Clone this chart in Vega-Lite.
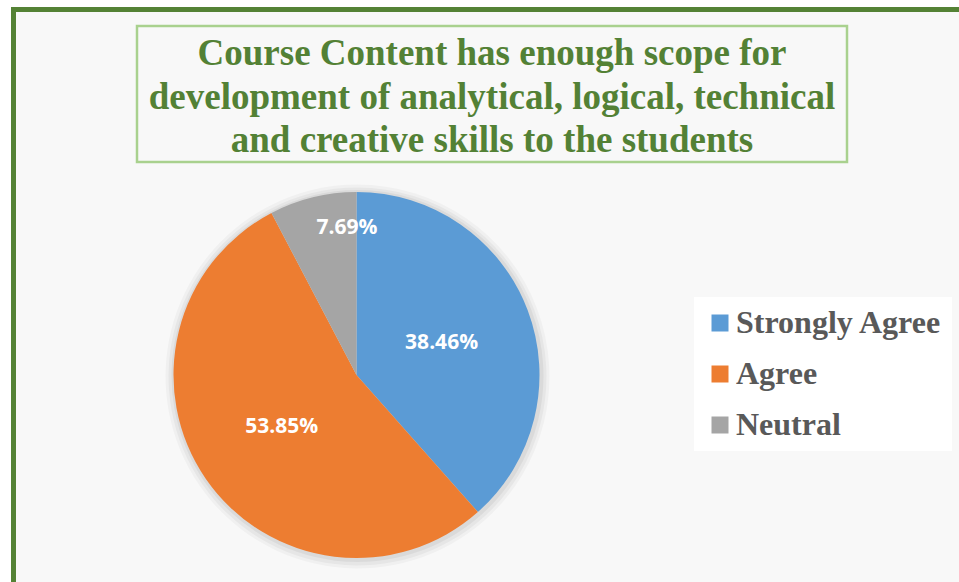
{
  "$schema": "https://vega.github.io/schema/vega-lite/v6.json",
  "width": 960,
  "height": 585,
  "autosize": {"type": "none"},
  "padding": {"left": 13.5, "top": 9.5, "right": 0, "bottom": 0},
  "background": "white",
  "config": {"view": {"stroke": "#548235", "strokeWidth": 5, "fill": "#f8f8f8"}},
  "data": {"values": [
    {"category": "Strongly Agree", "value": 38.46, "label": "38.46%", "idx": 1},
    {"category": "Agree", "value": 53.85, "label": "53.85%", "idx": 2},
    {"category": "Neutral", "value": 7.69, "label": "7.69%", "idx": 3}
  ]},
  "layer": [
    {
      "mark": {"type": "arc", "x": 344, "y": 367, "outerRadius": 192, "fill": "#000000", "opacity": 0.03},
      "encoding": {"theta": {"field": "value", "type": "quantitative", "stack": true}, "order": {"field": "idx"}}
    },
    {
      "mark": {"type": "arc", "x": 344, "y": 367, "outerRadius": 189, "fill": "#000000", "opacity": 0.04},
      "encoding": {"theta": {"field": "value", "type": "quantitative", "stack": true}, "order": {"field": "idx"}}
    },
    {
      "mark": {"type": "arc", "x": 344, "y": 366.5, "outerRadius": 186, "fill": "#000000", "opacity": 0.05},
      "encoding": {"theta": {"field": "value", "type": "quantitative", "stack": true}, "order": {"field": "idx"}}
    },
    {
      "mark": {"type": "arc", "x": 343, "y": 365.5, "outerRadius": 183, "stroke": null},
      "encoding": {
        "theta": {"field": "value", "type": "quantitative", "stack": true},
        "order": {"field": "idx"},
        "color": {
          "field": "category",
          "type": "nominal",
          "scale": {"domain": ["Strongly Agree", "Agree", "Neutral"], "range": ["#5b9bd5", "#ed7d31", "#a5a5a5"]},
          "sort": ["Strongly Agree", "Agree", "Neutral"],
          "legend": {
            "orient": "none",
            "legendX": 680.5,
            "legendY": 287.5,
            "title": null,
            "fillColor": "white",
            "padding": 10,
            "symbolType": "square",
            "symbolSize": 289,
            "symbolStrokeWidth": 0,
            "labelFont": "Liberation Serif",
            "labelFontWeight": "bold",
            "labelFontSize": 32,
            "labelColor": "#595959",
            "labelOffset": 0,
            "labelLimit": 0,
            "rowPadding": 19
          }
        }
      }
    },
    {
      "mark": {"type": "text", "x": 343, "y": 365.5, "radius": 91, "font": "Open Sans", "fontWeight": "bold", "fontSize": 21, "fill": "white"},
      "encoding": {
        "theta": {"field": "value", "type": "quantitative", "stack": true},
        "order": {"field": "idx"},
        "text": {"condition": {"test": "datum.category !== 'Neutral'", "field": "label"}, "value": ""}
      }
    },
    {
      "mark": {"type": "text", "x": 343, "y": 365.5, "radius": 151, "dx": 26.5, "font": "Open Sans", "fontWeight": "bold", "fontSize": 21, "fill": "white"},
      "encoding": {
        "theta": {"field": "value", "type": "quantitative", "stack": true},
        "order": {"field": "idx"},
        "text": {"condition": {"test": "datum.category === 'Neutral'", "field": "label"}, "value": ""}
      }
    },
    {
      "data": {"values": [{}]},
      "mark": {"type": "rect", "fill": null, "stroke": "#a9d18e", "strokeWidth": 2.5},
      "encoding": {"x": {"value": 123.5}, "x2": {"value": 833.5}, "y": {"value": 16.5}, "y2": {"value": 152.5}}
    },
    {
      "data": {"values": [{}]},
      "mark": {
        "type": "text",
        "text": ["Course Content has enough scope for", "development of analytical, logical, technical", "and creative skills to the students"],
        "font": "Liberation Serif",
        "fontWeight": "bold",
        "fontSize": 37,
        "lineHeight": 43.5,
        "fill": "#538135",
        "align": "center",
        "baseline": "alphabetic"
      },
      "encoding": {"x": {"value": 478.5}, "y": {"value": 55.5}}
    }
  ]
}
